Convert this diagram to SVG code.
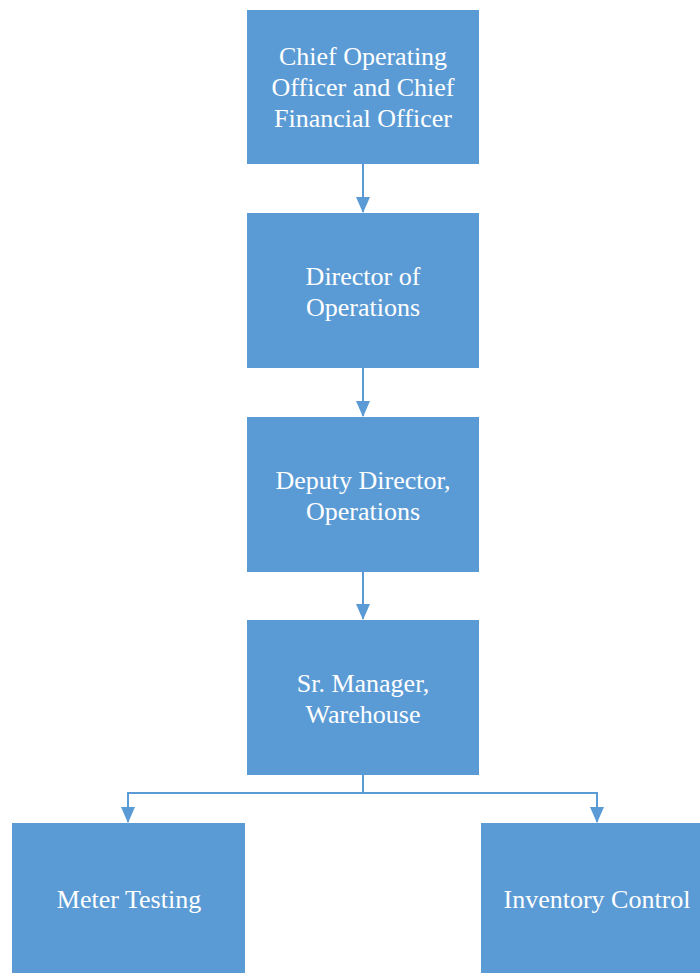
<svg xmlns="http://www.w3.org/2000/svg" width="700" height="973" viewBox="0 0 700 973">
<style>
.box{fill:#5B9BD5}
.t{fill:#FFFFFF;font-family:'Liberation Serif',Tinos,'Times New Roman','DejaVu Serif',serif;font-size:26px;text-anchor:middle}
.c{fill:none;stroke:#5B9BD5;stroke-width:2}
</style>
<defs>
<marker id="ah" markerUnits="userSpaceOnUse" markerWidth="16" markerHeight="16" viewBox="0 0 16 14" refX="15" refY="7" orient="auto">
<path d="M0,0 L16,7 L0,14 Z" fill="#5B9BD5"/>
</marker>
</defs>
<rect width="700" height="973" fill="#FFFFFF"/>
<g id="connectors">
<path class="c" d="M363,164 V212" marker-end="url(#ah)"/>
<path class="c" d="M363,368 V416" marker-end="url(#ah)"/>
<path class="c" d="M363,572 V619" marker-end="url(#ah)"/>
<path class="c" d="M363,775 V793 H128 V822" marker-end="url(#ah)"/>
<path class="c" d="M363,793 H597 V822" marker-end="url(#ah)"/>
</g>
<g id="coo-cfo">
<rect class="box" x="247" y="10" width="232" height="154"/>
<text class="t" x="363" y="65">Chief Operating</text>
<text class="t" x="363" y="96">Officer and Chief</text>
<text class="t" x="363" y="127">Financial Officer</text>
</g>
<g id="director-ops">
<rect class="box" x="247" y="213" width="232" height="155"/>
<text class="t" x="363" y="285">Director of</text>
<text class="t" x="363" y="316">Operations</text>
</g>
<g id="deputy-director">
<rect class="box" x="247" y="417" width="232" height="155"/>
<text class="t" x="363" y="489">Deputy Director,</text>
<text class="t" x="363" y="520">Operations</text>
</g>
<g id="sr-manager">
<rect class="box" x="247" y="620" width="232" height="155"/>
<text class="t" x="363" y="692">Sr. Manager,</text>
<text class="t" x="363" y="723">Warehouse</text>
</g>
<g id="meter-testing">
<rect class="box" x="12" y="823" width="233" height="155"/>
<text class="t" x="129" y="908">Meter Testing</text>
</g>
<g id="inventory-control">
<rect class="box" x="481" y="823" width="233" height="155"/>
<text class="t" x="597" y="908">Inventory Control</text>
</g>
</svg>
